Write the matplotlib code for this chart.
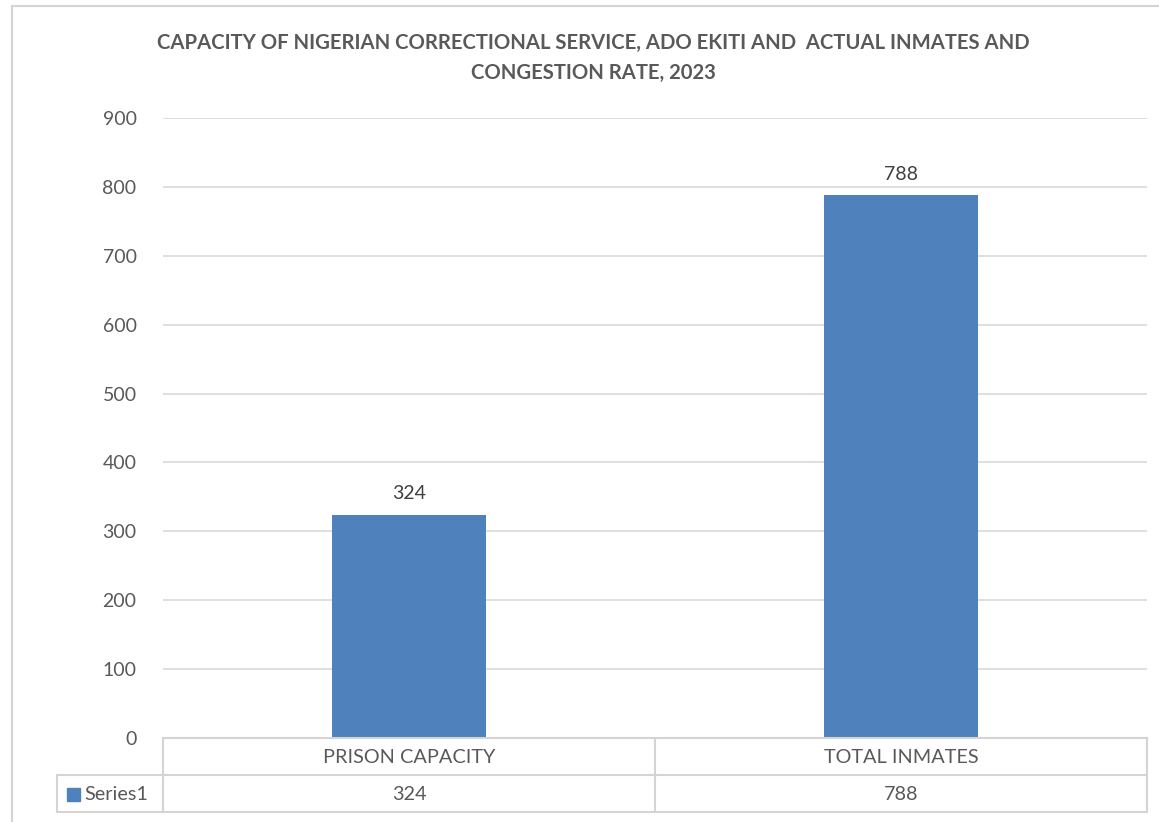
import matplotlib.pyplot as plt
from matplotlib.patches import Rectangle
from matplotlib.lines import Line2D

categories = ["PRISON CAPACITY", "TOTAL INMATES"]
values = [324, 788]
series_name = "Series1"
title = "CAPACITY OF NIGERIAN CORRECTIONAL SERVICE, ADO EKITI AND  ACTUAL INMATES AND\nCONGESTION RATE, 2023"

bar_color = "#4f81bd"
text_color = "#595959"
grid_color = "#d9d9d9"

plt.rcParams['font.family'] = ['Lato', 'DejaVu Sans']

W, H = 1159, 822
fig = plt.figure(figsize=(W / 100, H / 100), dpi=100)

# plot area in pixels: x 163..1147, y 118..738
ax = fig.add_axes([163 / W, 1 - 738 / H, (1147 - 163) / W, (738 - 118) / H])
x = range(len(categories))
ax.bar(x, values, width=0.313, color=bar_color, zorder=3)
for xi, v in zip(x, values):
    ax.text(xi, v + 18, str(v), ha="center", va="bottom", fontsize=14, color="#404040")

ax.set_xlim(-0.5, len(categories) - 0.5)
ax.set_ylim(0, 900)
ax.set_yticks(range(0, 901, 100))
ax.set_xticks([])
ax.tick_params(axis="y", length=0, pad=19, labelsize=14, labelcolor=text_color)
ax.grid(axis="y", color=grid_color, linewidth=1.2, zorder=0)
for s in ax.spines.values():
    s.set_visible(False)

# title
fig.text(593 / W, 1 - 58 / H, title, ha="center", va="center", fontsize=14.6,
         fontweight="bold", color=text_color, linespacing=1.6)

# data table under the plot
def fx(px):
    return px / W

def fy(py):
    return 1 - py / H

lc = "#d4d4d4"
lines = [
    ((163, 1147), (738, 738)),
    ((57, 1147), (775, 775)),
    ((57, 1147), (812, 812)),
    ((57, 57), (775, 812)),
    ((163, 163), (738, 812)),
    ((655, 655), (738, 812)),
    ((1147, 1147), (738, 812)),
]
for (xa, xb), (ya, yb) in lines:
    fig.add_artist(Line2D([fx(xa), fx(xb)], [fy(ya), fy(yb)], color=lc, linewidth=1.5))

col_centers = [(163 + 655) / 2, (655 + 1147) / 2]
for cx, cat, v in zip(col_centers, categories, values):
    fig.text(fx(cx), fy(757), cat, ha="center", va="center", fontsize=14.3, color=text_color)
    fig.text(fx(cx), fy(794), str(v), ha="center", va="center", fontsize=14.3, color=text_color)

fig.add_artist(Rectangle((fx(67), fy(801)), 13 / W, 13 / H, color=bar_color))
fig.text(fx(84), fy(794), series_name, ha="left", va="center", fontsize=14.3, color=text_color)

# outer chart border
fig.add_artist(Line2D([fx(12), fx(12)], [fy(6), 0], color=lc, linewidth=1.5))
fig.add_artist(Line2D([fx(12), 1], [fy(6), fy(6)], color=lc, linewidth=1.5))

fig.savefig("out.png", dpi=100)
